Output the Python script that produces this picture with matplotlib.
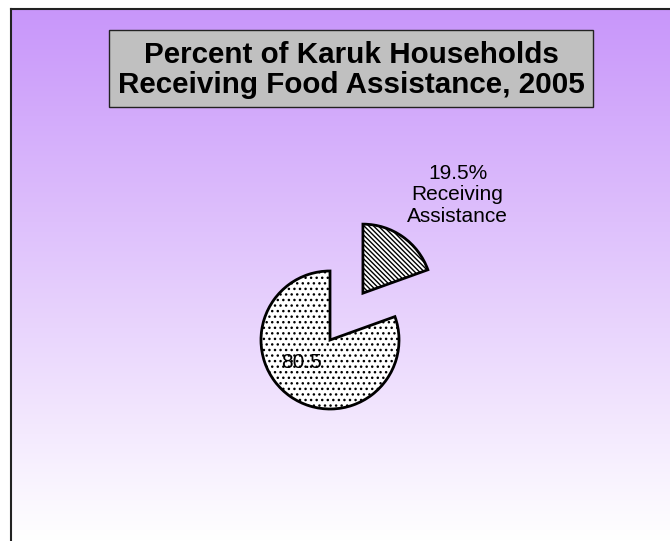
import numpy as np
import matplotlib
matplotlib.use("Agg")
import matplotlib.pyplot as plt
from matplotlib.patches import Rectangle

plt.rcParams['font.family'] = ['Liberation Sans', 'DejaVu Sans']
plt.rcParams['hatch.linewidth'] = 1.0

# Data
categories = ["Receiving Assistance", "Not Receiving"]
values = [19.5, 80.5]
label_texts = ["19.5%\nReceiving\nAssistance", "80.5"]
title = "Percent of Karuk Households\nReceiving Food Assistance, 2005"

W, H = 670, 541
fig = plt.figure(figsize=(W / 100, H / 100), dpi=100)
fig.patch.set_facecolor("white")

# Gradient background panel
bg = fig.add_axes([11 / W, 0, 1 - 11 / W, 1 - 9 / H])
top = np.array([200, 150, 250]) / 255.0
bot = np.array([255, 255, 255]) / 255.0
t = np.linspace(0, 1, 256)[:, None]
grad = top[None, :] * (1 - t) + bot[None, :] * t
bg.imshow(grad[:, None, :], aspect="auto", extent=[0, 1, 0, 1], origin="upper")
bg.set_xticks([]); bg.set_yticks([])
for s in ["right", "bottom"]:
    bg.spines[s].set_visible(False)
for s in ["left", "top"]:
    bg.spines[s].set_linewidth(1.5)
    bg.spines[s].set_color("#222222")

# Main axes in pixel coordinates (y up)
ax = fig.add_axes([0, 0, 1, 1])
ax.patch.set_alpha(0)

cx, cy, r = 330, H - 340, 69
explode_frac = 0.83
wedges, _ = ax.pie(values, explode=[explode_frac * r, 0], startangle=90,
                   counterclock=False, center=(cx, cy), radius=r, frame=True,
                   wedgeprops=dict(edgecolor="black", linewidth=2.0))
ax.set_xlim(0, W)
ax.set_ylim(0, H)
ax.set_aspect("equal")
ax.axis("off")
wedges[0].set_facecolor("white")
wedges[0].set_hatch("\\" * 7)
wedges[1].set_facecolor("white")
wedges[1].set_hatch("...")

ax.text(457.5, H - 195, label_texts[0], ha="center", va="center", fontsize=15,
        linespacing=1.15, color="black")
ax.text(302, H - 363, label_texts[1], ha="center", va="center", fontsize=15,
        color="black")

# Title box
ax.add_patch(Rectangle((109, H - 107), 484, 77, facecolor="#c0c0c0",
                       edgecolor="#222222", linewidth=1.0, zorder=3))
ax.text(351, H - 70, title, ha="center", va="center", fontsize=21.3,
        fontweight="bold", linespacing=1.12, zorder=4)

fig.savefig("out.png", dpi=100)
